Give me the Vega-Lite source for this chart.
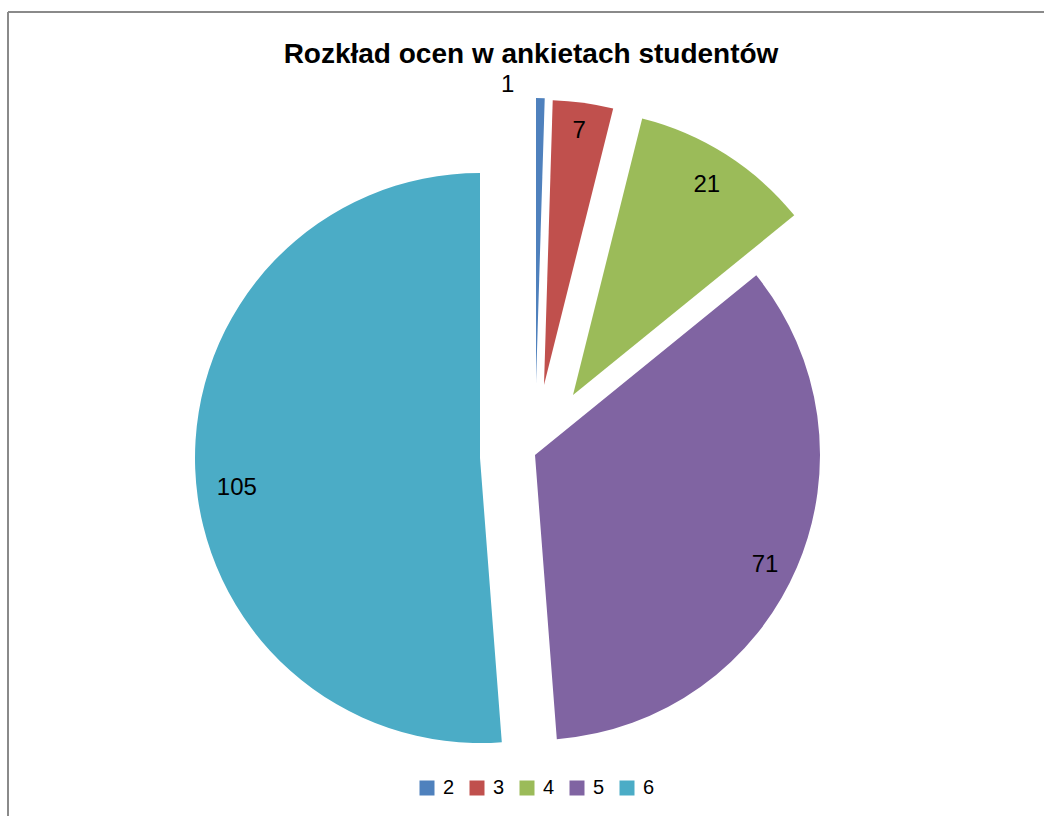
{
  "$schema": "https://vega.github.io/schema/vega-lite/v6.json",
  "width": 1036,
  "height": 804,
  "autosize": {"type": "none"},
  "padding": {"left": 8, "top": 12, "right": 0, "bottom": 0},
  "background": "white",
  "config": {
    "view": {"stroke": null},
    "font": "Liberation Sans"
  },
  "title": {
    "text": "Rozkład ocen w ankietach studentów",
    "font": "Liberation Sans",
    "fontSize": 28,
    "fontWeight": "bold",
    "color": "black",
    "anchor": "middle",
    "baseline": "alphabetic",
    "offset": -80,
    "dx": 5
  },
  "data": {
    "values": [
      {"grade": "2", "value": 1},
      {"grade": "3", "value": 7},
      {"grade": "4", "value": 21},
      {"grade": "5", "value": 71},
      {"grade": "6", "value": 105}
    ]
  },
  "layer": [
    {
      "mark": {"type": "rect", "fill": "transparent", "stroke": "#8a8a8a", "strokeWidth": 1.5, "strokeDash": [1036, 1840, 804, 0]},
      "encoding": {}
    },
    {
      "encoding": {
        "theta": {"field": "value", "type": "quantitative", "stack": true},
        "order": {"field": "grade", "type": "ordinal"},
        "detail": {"field": "grade", "type": "nominal"}
      },
      "layer": [
        {
          "mark": {"type": "arc", "outerRadius": 285, "xOffset": 10, "yOffset": -31},
          "encoding": {
            "color": {
              "field": "grade", "type": "nominal",
              "scale": {"domain": ["2", "3", "4", "5", "6"], "range": ["#4F81BD", "#C0504D", "#9BBB59", "#8064A2", "#4BACC6"]},
              "legend": {
                "orient": "none", "legendX": 409, "legendY": 766, "direction": "horizontal",
                "title": null, "symbolType": "square", "symbolSize": 225, "symbolStrokeWidth": 0,
                "labelFontSize": 20, "labelFont": "Liberation Sans", "labelColor": "black",
                "columnPadding": 12, "labelOffset": 6, "padding": 0, "symbolOpacity": 1
              }
            },
            "opacity": {"condition": {"test": "datum.grade === '2'", "value": 1}, "value": 0}
          }
        },
        {
          "mark": {"type": "arc", "outerRadius": 285, "xOffset": 18, "yOffset": -29},
          "encoding": {
            "color": {"field": "grade", "type": "nominal"},
            "opacity": {"condition": {"test": "datum.grade === '3'", "value": 1}, "value": 0}
          }
        },
        {
          "mark": {"type": "arc", "outerRadius": 285, "xOffset": 47, "yOffset": -19},
          "encoding": {
            "color": {"field": "grade", "type": "nominal"},
            "opacity": {"condition": {"test": "datum.grade === '4'", "value": 1}, "value": 0}
          }
        },
        {
          "mark": {"type": "arc", "outerRadius": 285, "xOffset": 9, "yOffset": 41},
          "encoding": {
            "color": {"field": "grade", "type": "nominal"},
            "opacity": {"condition": {"test": "datum.grade === '5'", "value": 1}, "value": 0}
          }
        },
        {
          "mark": {"type": "arc", "outerRadius": 285, "xOffset": -46, "yOffset": 44},
          "encoding": {
            "color": {"field": "grade", "type": "nominal"},
            "opacity": {"condition": {"test": "datum.grade === '6'", "value": 1}, "value": 0}
          }
        },
        {
          "mark": {"type": "text", "radius": 299, "thetaOffset": -0.11, "xOffset": 10, "yOffset": -31, "fontSize": 24, "font": "Liberation Sans", "color": "black"},
          "encoding": {
            "text": {"field": "value", "type": "quantitative"},
            "opacity": {"condition": {"test": "datum.grade === '2'", "value": 1}, "value": 0}
          }
        },
        {
          "mark": {"type": "text", "radius": 256, "xOffset": 18, "yOffset": -29, "fontSize": 24, "font": "Liberation Sans", "color": "black"},
          "encoding": {
            "text": {"field": "value", "type": "quantitative"},
            "opacity": {"condition": {"test": "datum.grade === '3'", "value": 1}, "value": 0}
          }
        },
        {
          "mark": {"type": "text", "radius": 249, "xOffset": 47, "yOffset": -19, "fontSize": 24, "font": "Liberation Sans", "color": "black"},
          "encoding": {
            "text": {"field": "value", "type": "quantitative"},
            "opacity": {"condition": {"test": "datum.grade === '4'", "value": 1}, "value": 0}
          }
        },
        {
          "mark": {"type": "text", "radius": 255, "thetaOffset": 0.04, "xOffset": 9, "yOffset": 41, "fontSize": 24, "font": "Liberation Sans", "color": "black"},
          "encoding": {
            "text": {"field": "value", "type": "quantitative"},
            "opacity": {"condition": {"test": "datum.grade === '5'", "value": 1}, "value": 0}
          }
        },
        {
          "mark": {"type": "text", "radius": 245, "thetaOffset": -0.084, "xOffset": -46, "yOffset": 44, "fontSize": 24, "font": "Liberation Sans", "color": "black"},
          "encoding": {
            "text": {"field": "value", "type": "quantitative"},
            "opacity": {"condition": {"test": "datum.grade === '6'", "value": 1}, "value": 0}
          }
        }
      ]
    }
  ]
}
